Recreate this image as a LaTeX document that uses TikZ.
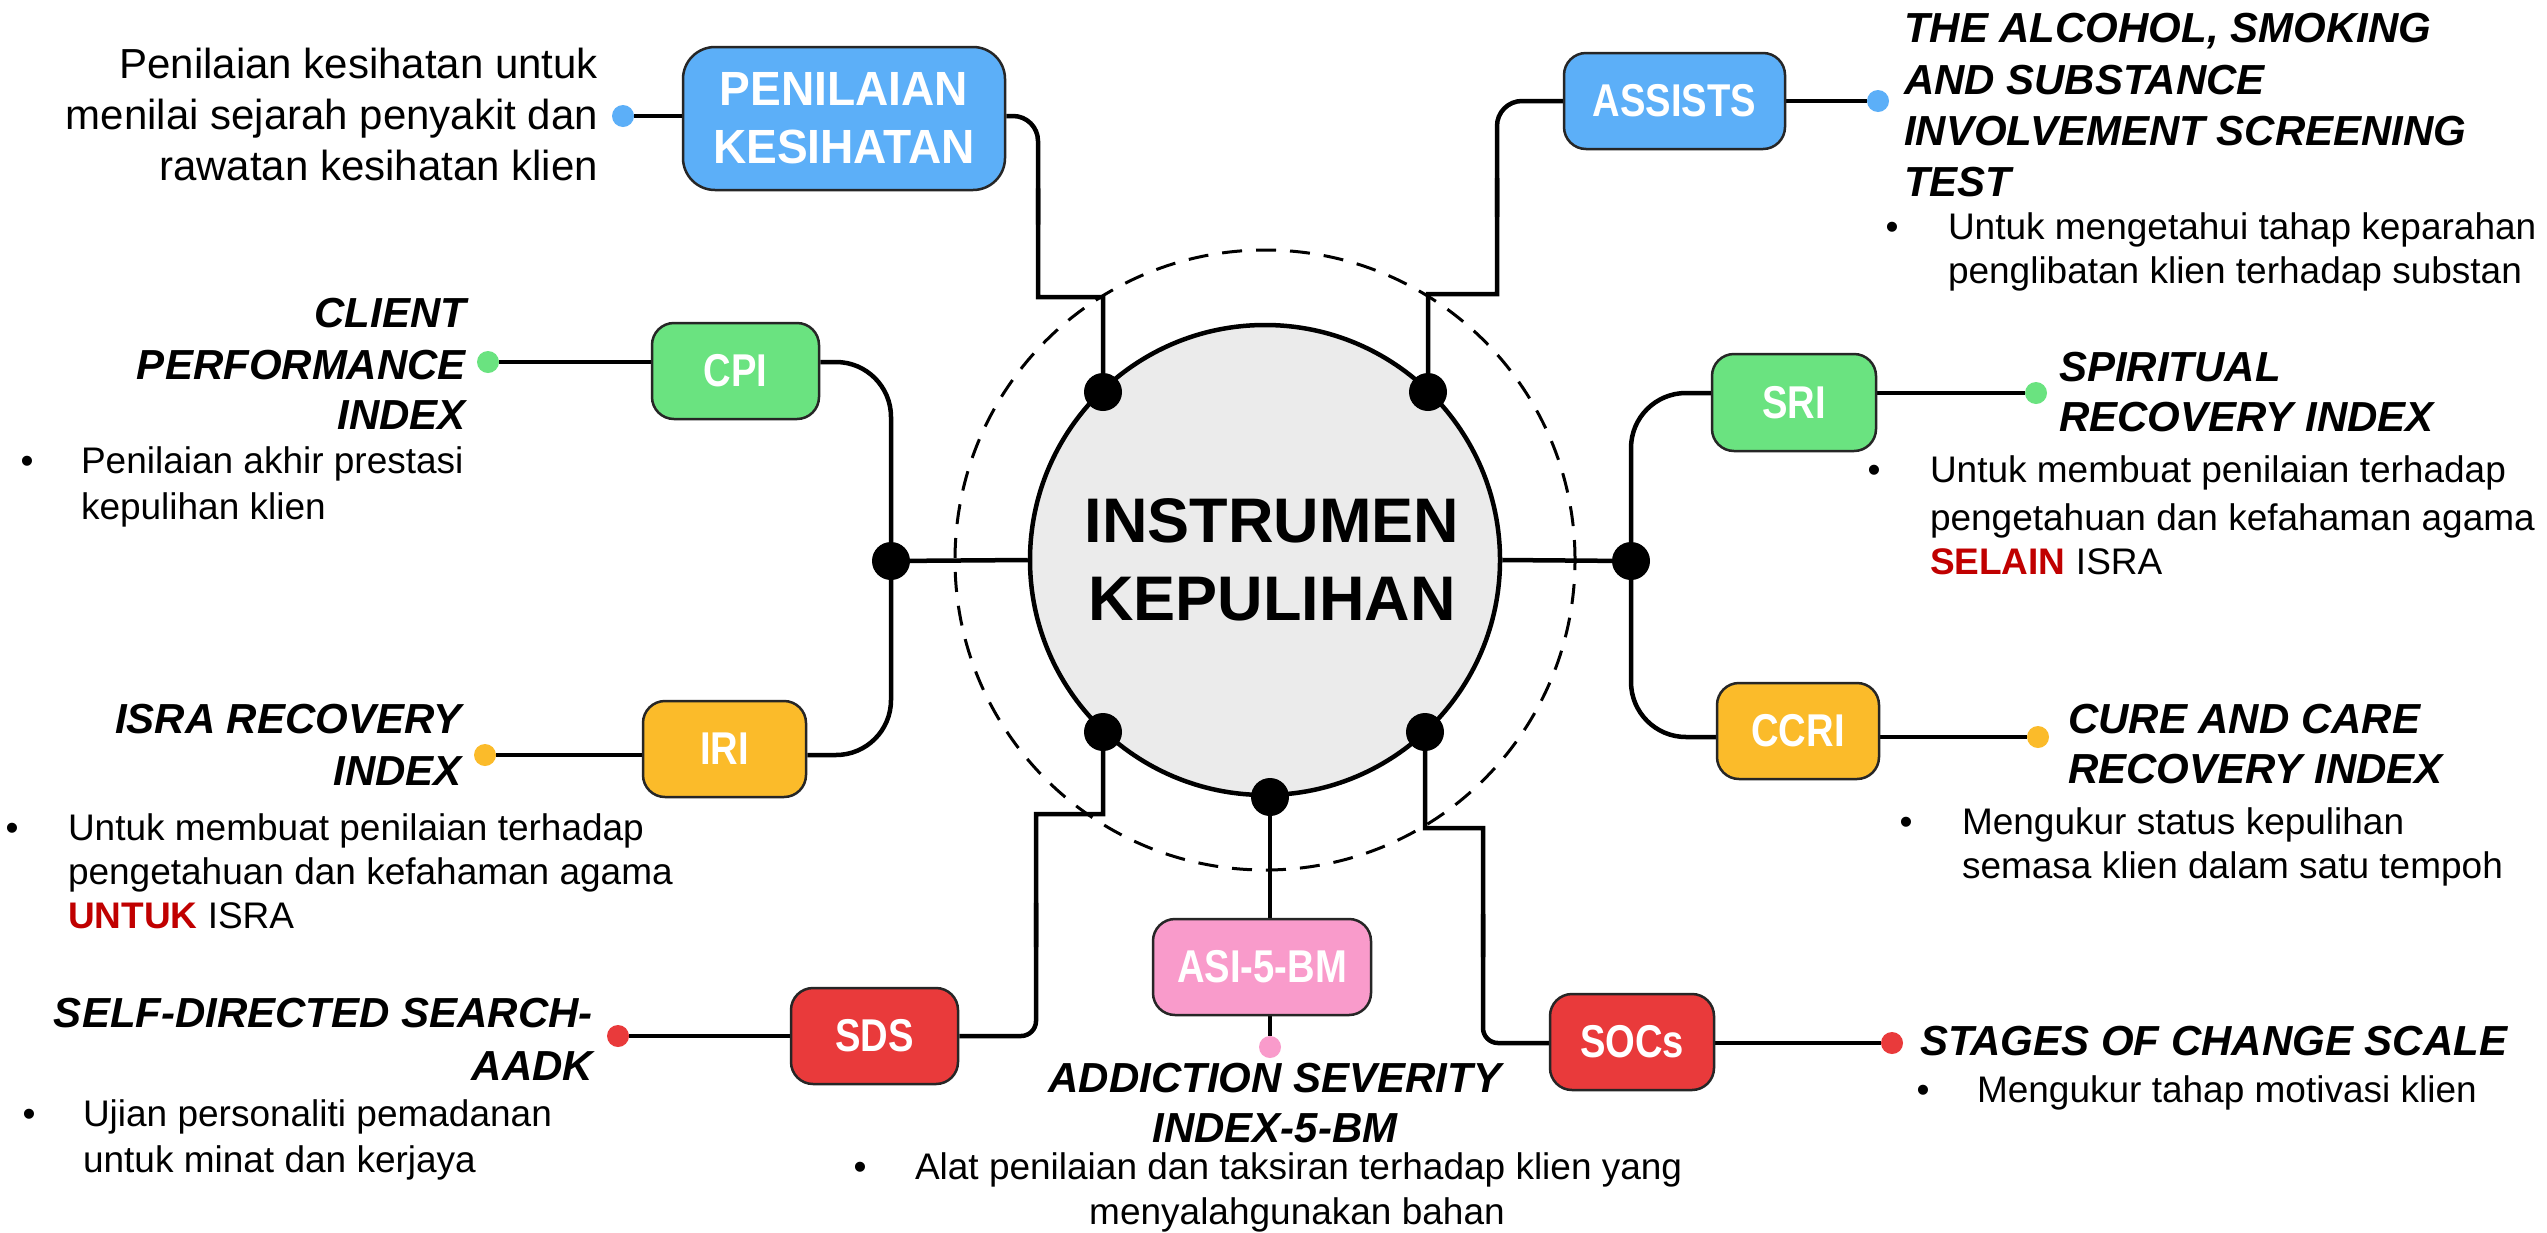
\documentclass[tikz,border=0pt]{standalone}
\usepackage{fontspec}
\setmainfont{Liberation Sans}
\newfontfamily\LblFont[FakeStretch=0.83]{Liberation Sans}
\newfontfamily\BigLblFont[FakeStretch=0.96]{Liberation Sans}
\usetikzlibrary{backgrounds,calc}
\definecolor{cblue}{RGB}{92,175,248}
\definecolor{cgreen}{RGB}{106,227,128}
\definecolor{cyellow}{RGB}{251,187,42}
\definecolor{cred}{RGB}{233,58,59}
\definecolor{cpink}{RGB}{249,155,203}
\definecolor{cgray}{RGB}{235,235,235}
\definecolor{dred}{RGB}{192,0,0}
\newcommand\TitleF{\fontsize{42bp}{51bp}\selectfont\bfseries\itshape}
\newcommand\BodyF{\fontsize{37bp}{46bp}\selectfont}
\newcommand\DescF{\fontsize{42bp}{51bp}\selectfont}
\newcommand\LabelF{\LblFont\fontsize{46bp}{56bp}\selectfont\bfseries}
\newcommand\BigLabelF{\BigLblFont\fontsize{48bp}{58bp}\selectfont\bfseries}
\newcommand\CenterF{\fontsize{63bp}{78bp}\selectfont\bfseries}
\begin{document}
\begin{tikzpicture}[x=1bp,y=-1bp,
  conn/.style={line width=4.5bp, black},
  bx/.style={draw=black!85, line width=2.5bp, rounded corners=22bp, inner sep=0pt, text=white, font=\LabelF},
  bdot/.style={circle, fill=black, minimum size=38bp, inner sep=0pt},
  sdot/.style={circle, minimum size=22bp, inner sep=0pt},
  tx/.style={inner sep=0pt, outer sep=0pt},
  ttl/.style={tx, font=\TitleF},
  bod/.style={tx, font=\BodyF},
  dsc/.style={tx, font=\DescF}]
\useasboundingbox (0,0) rectangle (2547,1232);

% centre
\node[circle, draw=black, line width=4.5bp, fill=cgray, minimum size=470bp, inner sep=0pt] (C) at (1265,560) {};
\node[tx, font=\CenterF, align=center] (Ctext) at (1272,560) {INSTRUMEN\\KEPULIHAN};

% boxes
\node[bx, fill=cblue, minimum width=322bp, minimum height=143bp, rounded corners=32bp, font=\BigLabelF, align=center] (PK) at (844,118.5) {PENILAIAN\\KESIHATAN};
\node[bx, fill=cblue, minimum width=221bp, minimum height=96bp] (AS) at (1674.5,101) {ASSISTS};
\node[bx, fill=cgreen, minimum width=167bp, minimum height=96bp] (CPI) at (735.5,371) {CPI};
\node[bx, fill=cgreen, minimum width=164bp, minimum height=97bp] (SRI) at (1794,402.5) {SRI};
\node[bx, fill=cyellow, minimum width=163bp, minimum height=96bp] (IRI) at (724.5,749) {IRI};
\node[bx, fill=cyellow, minimum width=162bp, minimum height=96bp] (CCRI) at (1798,731) {CCRI};
\node[bx, fill=cred, minimum width=167bp, minimum height=96bp] (SDS) at (874.5,1036) {SDS};
\node[bx, fill=cred, minimum width=164bp, minimum height=96bp] (SOC) at (1632,1042) {SOCs};
\node[bx, fill=cpink, minimum width=218bp, minimum height=96bp] (ASI) at (1262,967) {ASI-5-BM};

% junction dots
\node[bdot] (dUL) at (1103,392) {};
\node[bdot] (dUR) at (1428,392) {};
\node[bdot] (dL) at (891,561) {};
\node[bdot] (dR) at (1631,561) {};
\node[bdot] (dBL) at (1103,732) {};
\node[bdot] (dBR) at (1425,732) {};
\node[bdot] (dB) at (1270,797) {};

% small end dots
\node[sdot, fill=cblue] (dPK) at (623,116) {};
\node[sdot, fill=cblue] (dAS) at (1878,101) {};
\node[sdot, fill=cgreen] (dCPI) at (488,362) {};
\node[sdot, fill=cgreen] (dSRI) at (2036,393) {};
\node[sdot, fill=cyellow] (dIRI) at (485,755) {};
\node[sdot, fill=cyellow] (dCCRI) at (2038,737) {};
\node[sdot, fill=cred] (dSDS) at (618,1036) {};
\node[sdot, fill=cred] (dSOC) at (1892,1043) {};
\node[sdot, fill=cpink] (dASI) at (1270,1047) {};

% route coordinates
\coordinate (pk1) at (1038,116);
\coordinate (pk2) at (1038,297);
\coordinate (pk3) at (1103,297);
\coordinate (as1) at (1497,101);
\coordinate (as2) at (1497,294);
\coordinate (as3) at (1428,294);
\coordinate (sd1) at (1036,1036);
\coordinate (sd2) at (1036,814);
\coordinate (sd3) at (1103,814);
\coordinate (so1) at (1425,828);
\coordinate (so2) at (1483,828);
\coordinate (so3) at (1483,1043);

\begin{pgfonlayer}{background}
\fill[white] (0,0) rectangle (2547,1232);
\draw[dash pattern=on 20bp off 14bp, line width=3bp] (1265,560) circle[radius=310bp];
% PENILAIAN
\draw[conn] (dPK) -- (dPK -| PK.west);
\draw[conn, rounded corners=25bp] (dPK -| PK.east) -- (pk1) -- ($(pk1)!0.6!(pk2)$);
\draw[conn] ($(pk1)!0.4!(pk2)$) -- (pk2) -- (pk3) -- (dUL);
% ASSISTS
\draw[conn] (AS.east) -- (dAS);
\draw[conn, rounded corners=25bp] (AS.west) -- (as1) -- ($(as1)!0.6!(as2)$);
\draw[conn] ($(as1)!0.4!(as2)$) -- (as2) -- (as3) -- (dUR);
% left group
\draw[conn] (dL) -- (C.west);
\draw[conn] (dCPI) -- (dCPI -| CPI.west);
\draw[conn, rounded corners=55bp] (dCPI -| CPI.east) -- (dL |- dCPI) -- (dL);
\draw[conn] (dIRI) -- (dIRI -| IRI.west);
\draw[conn, rounded corners=55bp] (dL) -- (dL |- dIRI) -- (dIRI -| IRI.east);
% right group
\draw[conn] (dR) -- (C.east);
\draw[conn] (dSRI) -- (dSRI -| SRI.east);
\draw[conn, rounded corners=55bp] (dSRI -| SRI.west) -- (dR |- dSRI) -- (dR);
\draw[conn] (dCCRI) -- (dCCRI -| CCRI.east);
\draw[conn, rounded corners=55bp] (dR) -- (dR |- dCCRI) -- (dCCRI -| CCRI.west);
% SDS
\draw[conn] (dSDS) -- (dSDS -| SDS.west);
\draw[conn, rounded corners=15bp] (dSDS -| SDS.east) -- (sd1) -- ($(sd1)!0.6!(sd2)$);
\draw[conn] ($(sd1)!0.4!(sd2)$) -- (sd2) -- (sd3) -- (dBL);
% SOCs
\draw[conn] (dSOC) -- (dSOC -| SOC.east);
\draw[conn] (dBR) -- (so1) -- (so2) -- ($(so2)!0.6!(so3)$);
\draw[conn, rounded corners=15bp] ($(so2)!0.4!(so3)$) -- (so3) -- (dSOC -| SOC.west);
% ASI
\draw[conn] (dB) -- (dB |- ASI.north);
\draw[conn] (dB |- ASI.south) -- (dASI);
\end{pgfonlayer}

% PENILAIAN text
\node[dsc, anchor=base east] (pkt1) at (598,78) {Penilaian kesihatan untuk};
\node[dsc, anchor=base east] (pkt2) at (598,129) {menilai sejarah penyakit dan};
\node[dsc, anchor=base east] (pkt3) at (598,180) {rawatan kesihatan klien};

% ASSISTS text
\node[ttl, anchor=base west] (ast1) at (1904,42) {THE ALCOHOL, SMOKING};
\node[ttl, anchor=base west] (ast2) at (1904,94) {AND SUBSTANCE};
\node[ttl, anchor=base west] (ast3) at (1904,145) {INVOLVEMENT SCREENING};
\node[ttl, anchor=base west] (ast4) at (1904,196) {TEST};
\node[bod, anchor=base] (asb) at (1892,239) {•};
\node[bod, anchor=base west] (asd1) at (1948,239) {Untuk mengetahui tahap keparahan};
\node[bod, anchor=base west] (asd2) at (1948,283) {penglibatan klien terhadap substan};

% CPI text
\node[ttl, anchor=base east] (cpt1) at (466,327) {CLIENT};
\node[ttl, anchor=base east] (cpt2) at (466,379) {PERFORMANCE};
\node[ttl, anchor=base east] (cpt3) at (466,429) {INDEX};
\node[bod, anchor=base] (cpb) at (27,473) {•};
\node[bod, anchor=base west] (cpd1) at (81,473) {Penilaian akhir prestasi};
\node[bod, anchor=base west] (cpd2) at (81,519) {kepulihan klien};

% SRI text
\node[ttl, anchor=base west] (srt1) at (2059,381) {SPIRITUAL};
\node[ttl, anchor=base west] (srt2) at (2059,431) {RECOVERY INDEX};
\node[bod, anchor=base] (srb) at (1874,482) {•};
\node[bod, anchor=base west] (srd1) at (1930,482) {Untuk membuat penilaian terhadap};
\node[bod, anchor=base west] (srd2) at (1930,530) {pengetahuan dan kefahaman agama};
\node[bod, anchor=base west] (srd3) at (1930,574) {{\color{dred}\bfseries SELAIN} ISRA};

% IRI text
\node[ttl, anchor=base east] (irt1) at (462,733) {ISRA RECOVERY};
\node[ttl, anchor=base east] (irt2) at (462,785) {INDEX};
\node[bod, anchor=base] (irb) at (12,840) {•};
\node[bod, anchor=base west] (ird1) at (68,840) {Untuk membuat penilaian terhadap};
\node[bod, anchor=base west] (ird2) at (68,884) {pengetahuan dan kefahaman agama};
\node[bod, anchor=base west] (ird3) at (68,928) {{\color{dred}\bfseries UNTUK} ISRA};

% CCRI text
\node[ttl, anchor=base west] (cct1) at (2068,733) {CURE AND CARE};
\node[ttl, anchor=base west] (cct2) at (2068,783) {RECOVERY INDEX};
\node[bod, anchor=base] (ccb) at (1906,834) {•};
\node[bod, anchor=base west] (ccd1) at (1962,834) {Mengukur status kepulihan};
\node[bod, anchor=base west] (ccd2) at (1962,878) {semasa klien dalam satu tempoh};

% SDS text
\node[ttl, anchor=base east] (sdt1) at (593,1027) {SELF-DIRECTED SEARCH-};
\node[ttl, anchor=base east] (sdt2) at (593,1080) {AADK};
\node[bod, anchor=base] (sdb) at (29,1126) {•};
\node[bod, anchor=base west] (sdd1) at (83,1126) {Ujian personaliti pemadanan};
\node[bod, anchor=base west] (sdd2) at (83,1172) {untuk minat dan kerjaya};

% ASI text
\node[ttl, anchor=base] (ait1) at (1275,1092) {ADDICTION SEVERITY};
\node[ttl, anchor=base] (ait2) at (1275,1142) {INDEX-5-BM};
\node[bod, anchor=base] (aib) at (860,1179) {•};
\node[bod, anchor=base west] (aid1) at (915,1179) {Alat penilaian dan taksiran terhadap klien yang};
\node[bod, anchor=base] (aid2) at (1297,1224) {menyalahgunakan bahan};

% SOCs text
\node[ttl, anchor=base west] (sot1) at (1920,1055) {STAGES OF CHANGE SCALE};
\node[bod, anchor=base] (sob) at (1923,1102) {•};
\node[bod, anchor=base west] (sod1) at (1977,1102) {Mengukur tahap motivasi klien};
\end{tikzpicture}
\end{document}
